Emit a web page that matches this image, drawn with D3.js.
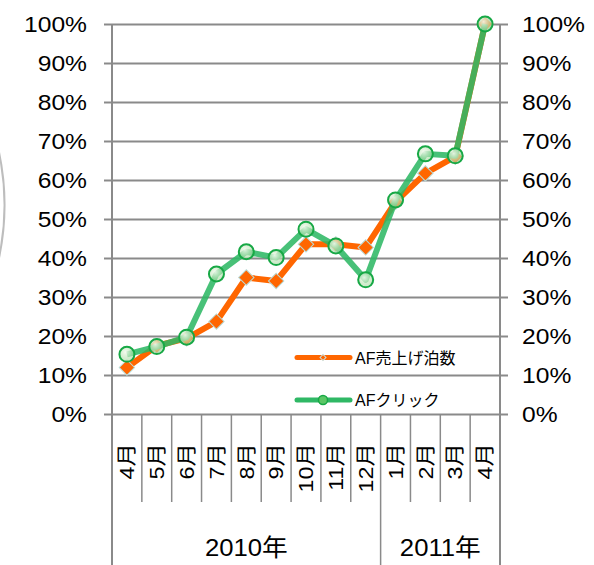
<!DOCTYPE html>
<html>
<head>
<meta charset="utf-8">
<script src="https://cdn.jsdelivr.net/npm/d3@7"></script>
<style>
  body { margin: 0; background: #fff; }
  svg { display: block; }
  text { font-family: "Liberation Sans", "Noto Sans CJK JP", Arial, sans-serif; fill: #000; }
</style>
</head>
<body>
<div class="container"></div>
<script>
var months = ["4月", "5月", "6月", "7月", "8月", "9月", "10月", "11月", "12月", "1月", "2月", "3月", "4月"];
var yearLabels = ["2010年", "2011年"];
var yearSpans = [9, 4];
var yTicks = [0, 0.1, 0.2, 0.3, 0.4, 0.5, 0.6, 0.7, 0.8, 0.9, 1];

var salesName = "AF売上げ泊数";
var sales = [0.119, 0.175, 0.194, 0.237, 0.350, 0.341, 0.435, 0.435, 0.427, 0.544, 0.617, 0.660, 1.0];
var clickName = "AFクリック";
var clicks = [0.153, 0.173, 0.197, 0.359, 0.416, 0.401, 0.474, 0.431, 0.344, 0.549, 0.667, 0.662, 1.0];

var w = 594, h = 565;
var plot = {left: 112, right: 500, top: 24, bottom: 414};
var gridColor = "#8a8a8a";
var orange = "#ff6600", green = "#2fb865";
var stretch = 1.12; // the original text is a bit wider than Liberation Sans

var svg = d3.select(".container").append("svg")
  .attr("width", w)
  .attr("height", h);

var defs = svg.append("defs");
var grad = defs.append("radialGradient").attr("id", "dot").attr("cx", "40%").attr("cy", "35%").attr("r", "65%");
grad.append("stop").attr("offset", "0%").attr("stop-color", "#f4fbef").attr("stop-opacity", 0.9);
grad.append("stop").attr("offset", "100%").attr("stop-color", "#9fd89a").attr("stop-opacity", 0.55);

var xScale = d3.scaleBand()
  .domain(d3.range(months.length))
  .range([plot.left, plot.right]);
var bw = xScale.bandwidth();
var yScale = d3.scaleLinear()
  .domain([0, 1])
  .range([plot.bottom, plot.top]);

// faint arc on the left edge
svg.append("path")
  .attr("d", d3.arc()({innerRadius: 258, outerRadius: 258, startAngle: Math.PI / 2 - 0.21, endAngle: Math.PI / 2 + 0.21}))
  .attr("transform", "translate(-253.5,205)")
  .attr("fill", "none")
  .attr("stroke", "#bdbdbd")
  .attr("stroke-width", 2);

/* ===== GRID + AXES ===== */
var grid = svg.append("g")
  .attr("transform", "translate(" + plot.left + ",0)")
  .call(d3.axisLeft(yScale).tickValues(yTicks).tickSize(-(plot.right - plot.left)).tickFormat(""));
grid.select(".domain").remove();
grid.selectAll("line").attr("stroke", gridColor).attr("stroke-width", 2);

var leftAxis = svg.append("g")
  .attr("transform", "translate(" + plot.left + ",0)")
  .call(d3.axisLeft(yScale).tickValues(yTicks).tickSize(8).tickFormat(d3.format(".0%")));
leftAxis.select(".domain").remove();
leftAxis.selectAll("line").attr("stroke", gridColor).attr("stroke-width", 2);
leftAxis.selectAll("text")
  .attr("x", 0)
  .attr("transform", "translate(-25,0) scale(" + stretch + ",1)")
  .style("font-size", "22px").attr("fill", "#000");

var rightAxis = svg.append("g")
  .attr("transform", "translate(" + plot.right + ",0)")
  .call(d3.axisRight(yScale).tickValues(yTicks).tickSize(8).tickFormat(d3.format(".0%")));
rightAxis.select(".domain").remove();
rightAxis.selectAll("line").attr("stroke", gridColor).attr("stroke-width", 2);
rightAxis.selectAll("text")
  .attr("x", 0)
  .attr("transform", "translate(22,0) scale(" + stretch + ",1)")
  .style("font-size", "22px").attr("fill", "#000");

// vertical frame lines
svg.append("g").selectAll("line")
  .data([plot.left, plot.right])
  .enter().append("line")
  .attr("x1", function(d) { return d; })
  .attr("x2", function(d) { return d; })
  .attr("y1", plot.top)
  .attr("y2", h)
  .attr("stroke", gridColor)
  .attr("stroke-width", 2);

// month dividers + year dividers
var yearBreaks = [];
var acc = 0;
yearSpans.forEach(function(s) { acc += s; yearBreaks.push(acc); });
svg.append("g").selectAll("line")
  .data(d3.range(1, months.length))
  .enter().append("line")
  .attr("x1", function(i) { return xScale(i); })
  .attr("x2", function(i) { return xScale(i); })
  .attr("y1", plot.bottom)
  .attr("y2", function(i) { return yearBreaks.indexOf(i) >= 0 ? h : 502; })
  .attr("stroke", gridColor)
  .attr("stroke-width", 1.5);

// month labels (rotated)
svg.append("g").selectAll("text")
  .data(months)
  .enter().append("text")
  .attr("transform", function(d, i) {
    return "translate(" + (xScale(i) + bw / 2) + ",443) rotate(-90) scale(1.17,1)";
  })
  .attr("dy", "0.36em")
  .style("text-anchor", "end")
  .style("font-size", "20px")
  .text(function(d) { return d; });

// year labels
var start = 0;
yearLabels.forEach(function(label, k) {
  var x0 = xScale(start), x1 = xScale(start + yearSpans[k] - 1) + bw;
  svg.append("text")
    .attr("transform", "translate(" + ((x0 + x1) / 2) + ",556) scale(1.07,1)")
    .style("text-anchor", "middle")
    .style("font-size", "24px")
    .text(label);
  start += yearSpans[k];
});

/* ===== SERIES ===== */
var line = d3.line()
  .x(function(d, i) { return xScale(i) + bw / 2; })
  .y(function(d) { return yScale(d); });

svg.append("path")
  .datum(sales)
  .attr("d", line)
  .attr("fill", "none")
  .attr("stroke", orange)
  .attr("stroke-width", 6)
  .attr("stroke-linejoin", "round");

svg.append("g").selectAll("path")
  .data(sales)
  .enter().append("path")
  .attr("d", d3.symbol().type(d3.symbolSquare).size(118))
  .attr("transform", function(d, i) {
    return "translate(" + (xScale(i) + bw / 2) + "," + yScale(d) + ") rotate(45)";
  })
  .attr("fill", orange)
  .attr("stroke", "#b9dcd8")
  .attr("stroke-width", 1);

svg.append("path")
  .datum(clicks)
  .attr("d", line)
  .attr("fill", "none")
  .attr("stroke", green)
  .attr("stroke-opacity", 0.88)
  .attr("stroke-width", 6)
  .attr("stroke-linejoin", "round");

svg.append("g").selectAll("circle")
  .data(clicks)
  .enter().append("circle")
  .attr("cx", function(d, i) { return xScale(i) + bw / 2; })
  .attr("cy", function(d) { return yScale(d); })
  .attr("r", 7.5)
  .attr("fill", "url(#dot)")
  .attr("stroke", "#17a845")
  .attr("stroke-width", 2);

/* ===== LEGEND ===== */
var legend = [
  {name: salesName, color: orange, y: 357.5, marker: "diamond"},
  {name: clickName, color: green, y: 400, marker: "circle"}
];
legend.forEach(function(l) {
  var g = svg.append("g");
  g.append("line")
    .attr("x1", 297).attr("x2", 350)
    .attr("y1", l.y).attr("y2", l.y)
    .attr("stroke", l.color)
    .attr("stroke-width", 5)
    .attr("stroke-linecap", "round");
  if (l.marker === "diamond") {
    g.append("path")
      .attr("d", d3.symbol().type(d3.symbolSquare).size(18))
      .attr("transform", "translate(323," + l.y + ") rotate(45)")
      .attr("fill", l.color)
      .attr("stroke", "#c9ddd9")
      .attr("stroke-width", 1);
  } else {
    g.append("circle")
      .attr("cx", 323).attr("cy", l.y).attr("r", 4.5)
      .attr("fill", "#5cc766")
      .attr("stroke", "#17a845")
      .attr("stroke-width", 1.5);
  }
  g.append("text")
    .attr("x", 355)
    .attr("y", l.y + 6)
    .style("font-size", "16px")
    .text(l.name);
});
</script>
</body>
</html>
